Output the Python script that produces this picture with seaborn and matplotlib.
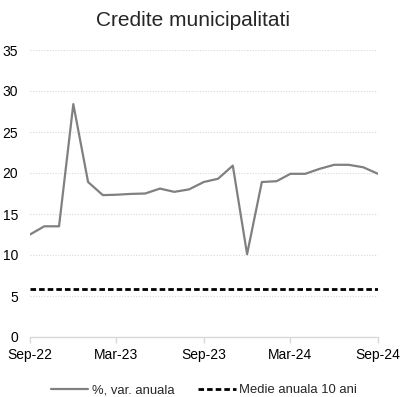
import matplotlib
matplotlib.use("Agg")
import matplotlib.pyplot as plt
import matplotlib.dates as mdates
import seaborn as sns
import pandas as pd
import numpy as np

# date lunare, Sep-22 .. Sep-24
luni = pd.date_range("2022-09-01", periods=25, freq="MS")
var_anuala = [12.5, 13.5, 13.5, 28.4, 18.9, 17.3, 17.35, 17.45, 17.5, 18.1, 17.7, 18.0,
              18.9, 19.3, 20.9, 10.1, 18.9, 19.0, 19.9, 19.9, 20.5, 21.0, 21.0, 20.7, 19.9]
medie_10ani = 5.9
y_ticks = [0, 5, 10, 15, 20, 25, 30, 35]

df = pd.DataFrame({"luna": luni, "var": var_anuala, "medie": [medie_10ani] * len(luni)})

sns.set_theme(style="white")
plt.rcParams["font.family"] = ["Liberation Sans", "DejaVu Sans"]

fig = plt.figure(figsize=(4.04, 3.97), dpi=100)
ax = fig.add_axes([30 / 404, 60 / 397, 348 / 404, 287 / 397])

sns.lineplot(data=df, x="luna", y="var", ax=ax, color="#808080", linewidth=1.6,
             label="%, var. anuala")
sns.lineplot(data=df, x="luna", y="medie", ax=ax, color="black", linewidth=2.0,
             linestyle=(0, (2.0, 1.1)), label="Medie anuala 10 ani")

ax.set_xlim(luni[0], luni[-1])
ax.set_ylim(0, 35)
ax.set_yticks(y_ticks)
ax.set_xticks(luni[::6])
ax.xaxis.set_major_formatter(mdates.DateFormatter("%b-%y"))
ax.set_xlabel("")
ax.set_ylabel("")

ax.grid(axis="y", color="#d9d9d9", linestyle=(0, (1, 1.5)), linewidth=0.8)
ax.grid(axis="x", visible=False)
for s in ["top", "right", "left"]:
    ax.spines[s].set_visible(False)
ax.spines["bottom"].set_color("#d9d9d9")
ax.spines["bottom"].set_linewidth(1.0)

ax.tick_params(axis="x", bottom=True, length=4, width=1, color="#d9d9d9",
               labelsize=10, pad=4, labelcolor="black")
ax.tick_params(axis="y", left=False, length=0, labelsize=10, pad=8.5, labelcolor="black")

fig.text(193 / 404, 1 - 21 / 397, "Credite municipalitati", fontsize=15,
         ha="center", va="center")

ax.legend(loc="center", bbox_to_anchor=(0.5, (337 - 390) / 287), ncol=2, frameon=False,
          fontsize=9.4, handlelength=2.85, columnspacing=1.85, handletextpad=0.25)

fig.savefig("out.png", dpi=100)
